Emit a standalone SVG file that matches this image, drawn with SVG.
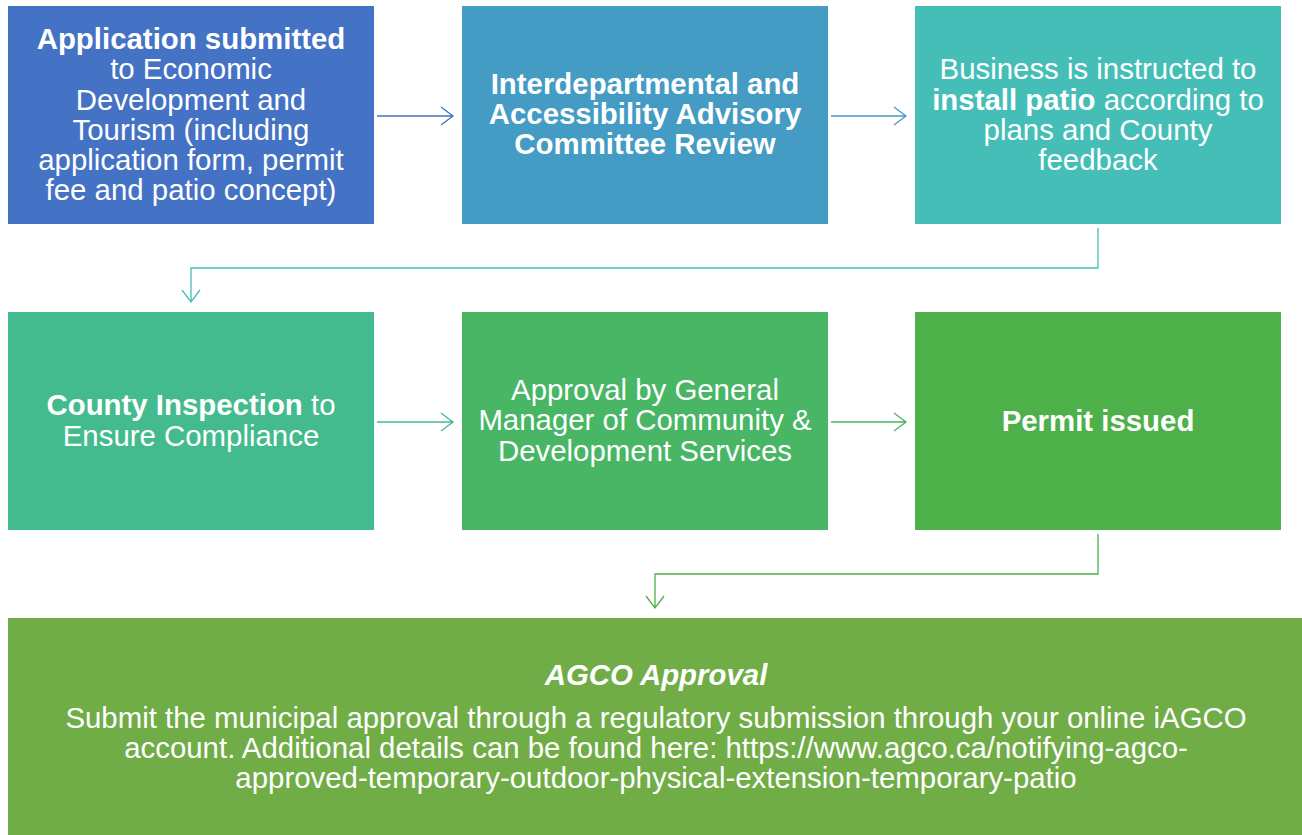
<svg xmlns="http://www.w3.org/2000/svg" width="1302" height="835" viewBox="0 0 1302 835">
<style>
text{font-family:"Liberation Sans",Arial,sans-serif;fill:#fff;text-anchor:middle;font-size:29.4px}
.b{font-weight:bold}
.c{fill:none;stroke-width:1.3}
</style>
<rect width="1302" height="835" fill="#fff"/>
<g id="n1"><rect x="8" y="6" width="366" height="218" fill="#4472C4"/>
<text x="191" y="49"><tspan class="b">Application submitted</tspan></text>
<text x="191" y="79">to Economic</text>
<text x="191" y="110">Development and</text>
<text x="191" y="140">Tourism (including</text>
<text x="191" y="170">application form, permit</text>
<text x="191" y="200">fee and patio concept)</text></g>
<g id="n2"><rect x="462" y="6" width="366" height="218" fill="#449BC3"/>
<text class="b" x="645" y="94">Interdepartmental and</text>
<text class="b" x="645" y="124">Accessibility Advisory</text>
<text class="b" x="645" y="154">Committee Review</text></g>
<g id="n3"><rect x="915" y="6" width="366" height="218" fill="#45BEB8"/>
<text x="1098" y="79">Business is instructed to</text>
<text x="1098" y="110"><tspan class="b">install patio</tspan> according to</text>
<text x="1098" y="140">plans and County</text>
<text x="1098" y="170">feedback</text></g>
<g id="n4"><rect x="8" y="312" width="366" height="218" fill="#44BB8E"/>
<text x="191" y="415"><tspan class="b">County Inspection</tspan> to</text>
<text x="191" y="446">Ensure Compliance</text></g>
<g id="n5"><rect x="462" y="312" width="366" height="218" fill="#48B665"/>
<text x="645" y="400">Approval by General</text>
<text x="645" y="430">Manager of Community &amp;</text>
<text x="645" y="461">Development Services</text></g>
<g id="n6"><rect x="915" y="312" width="366" height="218" fill="#4DB049"/>
<text class="b" x="1098" y="431">Permit issued</text></g>
<g id="n7"><rect x="8" y="618" width="1294" height="217" fill="#70AD47"/>
<text class="b" x="656" y="685" font-style="italic">AGCO Approval</text>
<text x="656" y="728">Submit the municipal approval through a regulatory submission through your online iAGCO</text>
<text x="656" y="758">account. Additional details can be found here: https://www.agco.ca/notifying-agco-</text>
<text x="656" y="788">approved-temporary-outdoor-physical-extension-temporary-patio</text></g>
<g id="connectors">
<path class="c" stroke="#4472C4" d="M377 116H453M441 107L453 116L441 125"/>
<path class="c" stroke="#449BC3" d="M831 116H906M894 107L906 116L894 125"/>
<path class="c" stroke="#45BEB8" d="M1098 228V268H191V302M182 290L191 302L200 290"/>
<path class="c" stroke="#44BB8E" d="M377 422H453M441 413L453 422L441 431"/>
<path class="c" stroke="#48B665" d="M831 422H906M894 413L906 422L894 431"/>
<path class="c" stroke="#4DB049" d="M1098 534V574H655V608M646 596L655 608L664 596"/>
</g>
</svg>
